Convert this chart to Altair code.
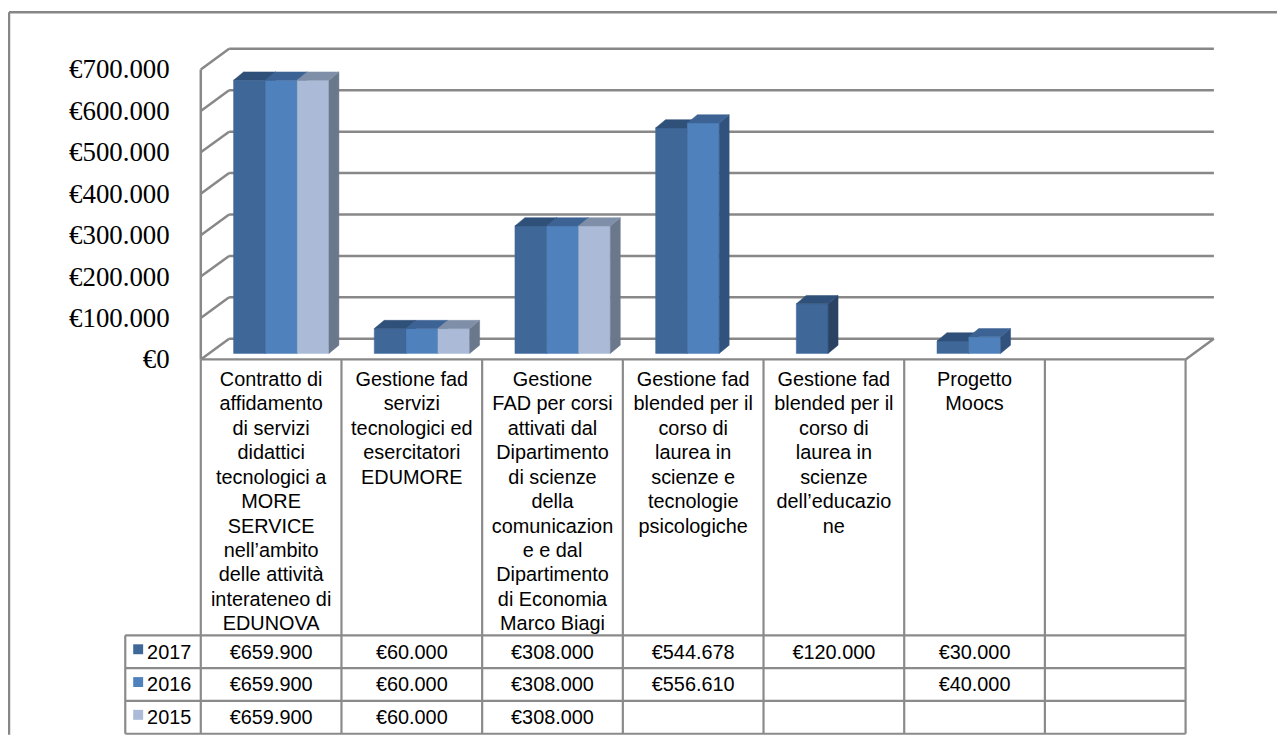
import altair as alt
import pandas as pd

# ------------------------------------------------------------------ data
category_lines = [
    ["Contratto di", "affidamento", "di servizi", "didattici", "tecnologici a", "MORE",
     "SERVICE", "nell’ambito", "delle attività", "interateneo di", "EDUNOVA"],
    ["Gestione fad", "servizi", "tecnologici ed", "esercitatori", "EDUMORE"],
    ["Gestione", "FAD per corsi", "attivati dal", "Dipartimento", "di scienze", "della",
     "comunicazion", "e e dal", "Dipartimento", "di Economia", "Marco Biagi"],
    ["Gestione fad", "blended per il", "corso di", "laurea in", "scienze e", "tecnologie",
     "psicologiche"],
    ["Gestione fad", "blended per il", "corso di", "laurea in", "scienze", "dell’educazio", "ne"],
    ["Progetto", "Moocs"],
]
years = ["2017", "2016", "2015"]
values_2017 = [659900, 60000, 308000, 544678, 120000, 30000]
values_2016 = [659900, 60000, 308000, 556610, None, 40000]
values_2015 = [659900, 60000, 308000, None, None, None]
y_ticks = [0, 100000, 200000, 300000, 400000, 500000, 600000, 700000]

front_colors = ["#3F6899", "#4F81BD", "#AABAD7"]
top_colors = ["#2F5079", "#3C6394", "#808FA8"]
side_colors = ["#2A4365", "#31527D", "#6B788C"]
GRID = "#888888"
LINE = "#8A8A8A"


def euro(v):
    return "€" + f"{v:,}".replace(",", ".")


# ---------------------------------------------------------------- layout
W, H = 1277, 729
TL, TR = 194.0, 1185.0          # table / floor front edge, chart px
NCOL = 7                        # 6 categories + empty column
CW = (TR - TL) / NCOL
Y0 = 345.3                      # bar front plane, value 0
PPV = 41.67 / 100000            # px per euro
YMAX = 700000
YTOP = Y0 - YMAX * PPV


def u(px):
    return px / CW


def ev(px):
    return px / PPV


WALL_DX = u(28.5)
WALL_FRONT = -ev(6.0)
WALL_BACK = ev(14.8)
BAR_OFF = u(33)
BAR_W = u(32)
TOP_DX = u(10)
TOP_DY = ev(8.3)
LEG_L = u(-76)
FLOOR_PX = Y0 + 6.0
ROWS = [629.0, 662.0, 695.0, 728.0]
ROW_C = [(ROWS[i] + ROWS[i + 1]) / 2 if i < 3 else None for i in range(3)]
ROW_C = [(ROWS[i] + ROWS[i + 1]) / 2 for i in range(3)]

xsc = alt.Scale(domain=[0, NCOL], range=[TL, TR], nice=False, zero=False)
ysc = alt.Scale(domain=[0, YMAX], range=[Y0, YTOP], nice=False, zero=False)


def plot_rules(rows, color, width):
    return alt.Chart(pd.DataFrame(rows)).mark_rule(color=color, strokeWidth=width).encode(
        x=alt.X("xa:Q", scale=xsc, axis=None), x2="xb:Q",
        y=alt.Y("ya:Q", scale=ysc, axis=None), y2="yb:Q")


def table_rules(rows, color, width):
    return alt.Chart(pd.DataFrame(rows)).mark_rule(color=color, strokeWidth=width).encode(
        x=alt.X("xa:Q", scale=xsc, axis=None), x2="xb:Q",
        y=alt.Y("ya:Q", scale=None, axis=None), y2="yb:Q")


layers = []

# outer frame (top and left edges visible)
frame = alt.Chart(pd.DataFrame({"a": [0]}))
layers.append(frame.mark_rule(color="#878787", strokeWidth=2.5).encode(
    x=alt.value(1), x2=alt.value(W), y=alt.value(2), y2=alt.value(2)))
layers.append(frame.mark_rule(color="#878787", strokeWidth=2.5).encode(
    x=alt.value(1), x2=alt.value(1), y=alt.value(2), y2=alt.value(H)))

# back wall gridlines
layers.append(plot_rules([dict(xa=WALL_DX, xb=NCOL + WALL_DX, ya=t + WALL_BACK, yb=t + WALL_BACK)
                          for t in y_ticks], GRID, 2.5))
# side wall diagonals
layers.append(plot_rules([dict(xa=0, xb=WALL_DX, ya=t + WALL_FRONT, yb=t + WALL_BACK)
                          for t in y_ticks], GRID, 2.5))
# front wall edge, floor edges
layers.append(plot_rules([
    dict(xa=0, xb=0, ya=WALL_FRONT, yb=YMAX + WALL_FRONT),
    dict(xa=0, xb=NCOL, ya=WALL_FRONT, yb=WALL_FRONT),
    dict(xa=NCOL, xb=NCOL + WALL_DX, ya=WALL_FRONT, yb=WALL_BACK),
], GRID, 2.5))

# data table grid
vrules = [dict(xa=c, xb=c, ya=FLOOR_PX, yb=ROWS[-1]) for c in range(NCOL + 1)]
vrules.append(dict(xa=LEG_L, xb=LEG_L, ya=ROWS[0], yb=ROWS[-1]))
hrules = [dict(xa=LEG_L, xb=NCOL, ya=r, yb=r) for r in ROWS]
layers.append(table_rules(vrules + hrules, LINE, 2.2))

# 3D bars
series_vals = [values_2017, values_2016, values_2015]
for s, vals in enumerate(series_vals):
    fr, tp, sd = [], [], []
    for c, v in enumerate(vals):
        if v is None:
            continue
        x0 = c + BAR_OFF + s * BAR_W
        x1 = x0 + BAR_W
        fr.append(dict(xa=x0, xb=x1, ya=0, yb=v))
        tp += [dict(id=c, yy=v, xa=x0, xb=x1),
               dict(id=c, yy=v + TOP_DY, xa=x0 + TOP_DX, xb=x1 + TOP_DX)]
        sd += [dict(id=c, xx=x1, ya=v, yb=0),
               dict(id=c, xx=x1 + TOP_DX, ya=v + TOP_DY, yb=TOP_DY)]
    layers.append(alt.Chart(pd.DataFrame(fr)).mark_rect(
        color=front_colors[s], stroke=front_colors[s], strokeWidth=0.5).encode(
        x=alt.X("xa:Q", scale=xsc, axis=None), x2="xb:Q",
        y=alt.Y("ya:Q", scale=ysc, axis=None), y2="yb:Q"))
    layers.append(alt.Chart(pd.DataFrame(sd)).mark_area(
        orient="vertical", color=side_colors[s], stroke=side_colors[s], strokeWidth=0.5).encode(
        x=alt.X("xx:Q", scale=xsc, axis=None),
        y=alt.Y("ya:Q", scale=ysc, axis=None), y2="yb:Q", detail="id:N"))
    layers.append(alt.Chart(pd.DataFrame(tp)).mark_area(
        orient="horizontal", color=top_colors[s], stroke=top_colors[s], strokeWidth=0.5).encode(
        y=alt.Y("yy:Q", scale=ysc, axis=None),
        x=alt.X("xa:Q", scale=xsc, axis=None), x2="xb:Q", detail="id:N"))

# value axis labels
ylab = pd.DataFrame({"v": y_ticks, "t": [euro(t) for t in y_ticks]})
layers.append(alt.Chart(ylab).mark_text(
    align="right", baseline="middle", font="Liberation Serif", fontSize=27, dy=7,
    color="black").encode(
    x=alt.value(162.7), y=alt.Y("v:Q", scale=ysc, axis=None), text="t:N"))

# category labels (table header)
cat = pd.DataFrame({"xc": [c + 0.5 for c in range(len(category_lines))],
                    "t": ["\n".join(l) for l in category_lines]})
layers.append(alt.Chart(cat).mark_text(
    align="center", baseline="alphabetic", font="Liberation Sans", fontSize=20,
    lineBreak="\n", lineHeight=24.6, color="black").encode(
    x=alt.X("xc:Q", scale=xsc, axis=None), y=alt.value(378), text="t:N"))

# table values
cells = []
for s, vals in enumerate(series_vals):
    for c, v in enumerate(vals):
        if v is None:
            continue
        cells.append(dict(xc=c + 0.5, yy=ROW_C[s] + 1, t=euro(v)))
layers.append(alt.Chart(pd.DataFrame(cells)).mark_text(
    align="center", baseline="middle", font="Liberation Sans", fontSize=20, color="black").encode(
    x=alt.X("xc:Q", scale=xsc, axis=None), y=alt.Y("yy:Q", scale=None, axis=None), text="t:N"))

# legend keys in table
leg = pd.DataFrame({"year": years, "yy": [r - 2.5 for r in ROW_C], "yt": [r + 1 for r in ROW_C]})
layers.append(alt.Chart(leg).mark_square(size=100, opacity=1).encode(
    x=alt.value(131), y=alt.Y("yy:Q", scale=None, axis=None),
    color=alt.Color("year:N", scale=alt.Scale(domain=years, range=front_colors), legend=None)))
layers.append(alt.Chart(leg).mark_text(
    align="left", baseline="middle", font="Liberation Sans", fontSize=20, color="black").encode(
    x=alt.value(140), y=alt.Y("yt:Q", scale=None, axis=None), text="year:N"))

chart = alt.layer(*layers).properties(
    width=W, height=H, autosize=alt.AutoSizeParams(type="none"), padding=0,
    background="white").configure_view(strokeWidth=0)

chart.save("out.html", embed_options={"renderer": "svg", "actions": False})
